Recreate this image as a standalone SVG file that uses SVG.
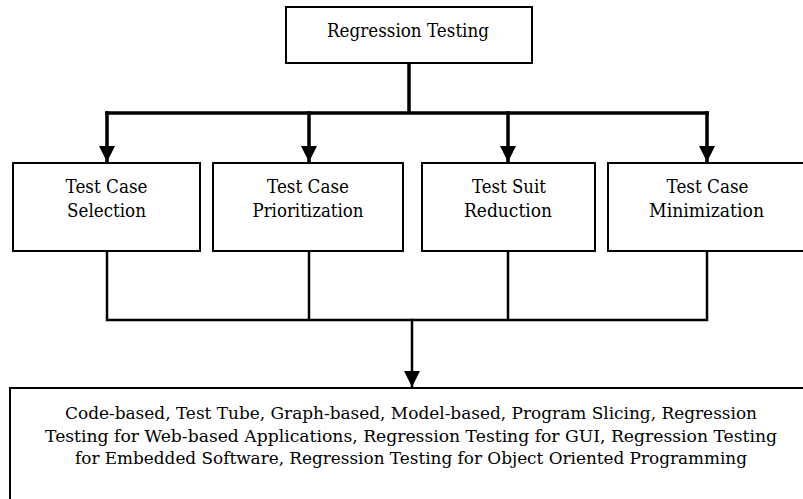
<svg xmlns="http://www.w3.org/2000/svg" width="803" height="499" viewBox="0 0 803 499">
  <style>
    .box { fill: #ffffff; stroke: #000000; stroke-width: 2; }
    .lbl { font-family: "DejaVu Serif", serif; font-size: 19px; fill: #000000; text-anchor: middle; }
    .small { font-family: "DejaVu Serif", serif; font-size: 16px; fill: #000000; text-anchor: middle; }
    .wire { fill: none; stroke: #000000; stroke-linejoin: miter; stroke-linecap: square; }
    .thick { stroke-width: 3.5; }
    .thin { stroke-width: 2.5; }
  </style>
  <defs>
    <marker id="head" markerUnits="userSpaceOnUse" markerWidth="17" markerHeight="17" refX="16" refY="8" orient="auto">
      <path d="M0,0 L16,8 L0,16 Z" fill="#000000"/>
    </marker>
  </defs>
  <rect x="0" y="0" width="803" height="499" fill="#ffffff"/>

  <g id="connectors">
    <!-- root fan-out -->
    <path class="wire thick" d="M409,63 V113 M107,113 H707"/>
    <path class="wire thick" d="M107,113 V162" marker-end="url(#head)"/>
    <path class="wire thick" d="M309,113 V162" marker-end="url(#head)"/>
    <path class="wire thick" d="M508,113 V162" marker-end="url(#head)"/>
    <path class="wire thick" d="M707,113 V162" marker-end="url(#head)"/>
    <!-- fan-in to techniques -->
    <path class="wire thin" d="M107,251 V320 H707 V251 M309,251 V320 M508,251 V320"/>
    <path class="wire thin" d="M412,320 V387" marker-end="url(#head)"/>
  </g>

  <g id="regression-testing">
    <rect class="box" x="286" y="7" width="246" height="56"/>
    <text class="lbl" x="408" y="37" textLength="162" lengthAdjust="spacingAndGlyphs">Regression Testing</text>
  </g>

  <g id="test-case-selection">
    <rect class="box" x="13" y="163" width="187" height="88"/>
    <text class="lbl" x="106.5" y="193" textLength="82" lengthAdjust="spacingAndGlyphs">Test Case</text>
    <text class="lbl" x="106.5" y="217" textLength="79" lengthAdjust="spacingAndGlyphs">Selection</text>
  </g>

  <g id="test-case-prioritization">
    <rect class="box" x="213" y="163" width="190" height="88"/>
    <text class="lbl" x="308" y="193" textLength="82" lengthAdjust="spacingAndGlyphs">Test Case</text>
    <text class="lbl" x="308" y="217" textLength="111" lengthAdjust="spacingAndGlyphs">Prioritization</text>
  </g>

  <g id="test-suit-reduction">
    <rect class="box" x="422" y="163" width="173" height="88"/>
    <text class="lbl" x="509" y="193" textLength="74" lengthAdjust="spacingAndGlyphs">Test Suit</text>
    <text class="lbl" x="508" y="217" textLength="88" lengthAdjust="spacingAndGlyphs">Reduction</text>
  </g>

  <g id="test-case-minimization">
    <rect class="box" x="608" y="163" width="200" height="88"/>
    <text class="lbl" x="707.5" y="193" textLength="82" lengthAdjust="spacingAndGlyphs">Test Case</text>
    <text class="lbl" x="706.5" y="217" textLength="115" lengthAdjust="spacingAndGlyphs">Minimization</text>
  </g>

  <g id="techniques">
    <rect class="box" x="10" y="388" width="800" height="120"/>
    <text class="small" x="411" y="419" textLength="692" lengthAdjust="spacingAndGlyphs">Code-based, Test Tube, Graph-based, Model-based, Program Slicing, Regression</text>
    <text class="small" x="411" y="441.5" textLength="732" lengthAdjust="spacingAndGlyphs">Testing for Web-based Applications, Regression Testing for GUI, Regression Testing</text>
    <text class="small" x="411" y="464" textLength="672" lengthAdjust="spacingAndGlyphs">for Embedded Software, Regression Testing for Object Oriented Programming</text>
  </g>
</svg>
